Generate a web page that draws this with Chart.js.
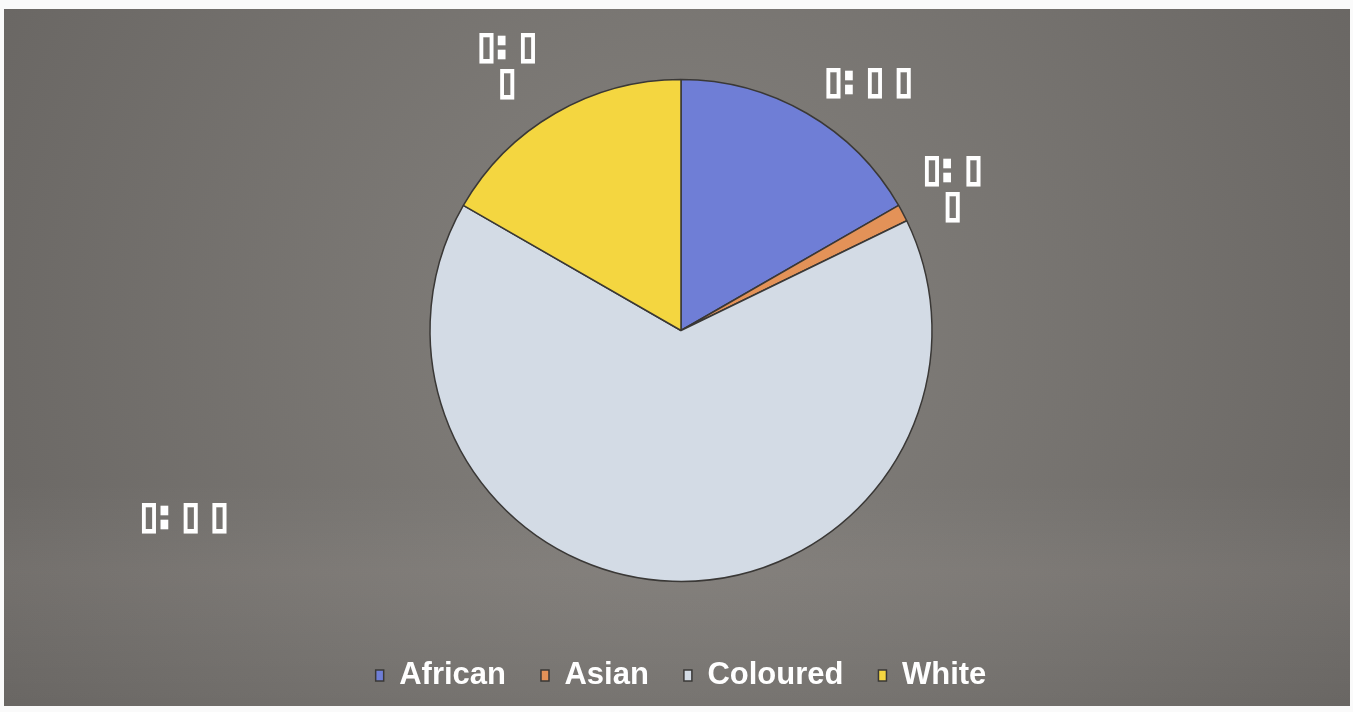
<!DOCTYPE html>
<html>
<head>
<meta charset="utf-8">
<script src="https://cdn.jsdelivr.net/npm/chart.js@4.4.1/dist/chart.umd.min.js"></script>
<style>
  html, body { margin: 0; padding: 0; background: #fafafa; }
  #wrap { position: absolute; left: 4px; top: 9px; width: 1346px; height: 697px; }
</style>
</head>
<body>
<div id="wrap"><canvas id="myChart"></canvas></div>
<script>
// chart data
const categories = ['African', 'Asian', 'Coloured', 'White'];
const shares = [16.7, 1.1, 65.5, 16.7];
// the data labels came out as missing glyphs in the original
const labelTexts = [['\u25AF: \u25AF \u25AF'], ['\u25AF: \u25AF', '\u25AF'], ['\u25AF: \u25AF \u25AF'], ['\u25AF: \u25AF', '\u25AF']];
const sliceColors = ['#6f7ed6', '#e39258', '#d3dbe5', '#f4d640'];

// where each label sits, relative to the outer middle of its slice
const labelOffsets = [[62, -30], [50, -24], [-488, -63], [-48, -47]];

const bgPlugin = {
    id: 'bg',
    beforeDraw(chart) {
        const ctx = chart.ctx;
        const w = chart.width, h = chart.height;
        ctx.save();
        const g = ctx.createRadialGradient(w / 2, h * 0.45, 40, w / 2, h * 0.45, w * 0.6);
        g.addColorStop(0, '#83807c');
        g.addColorStop(1, '#686562');
        ctx.fillStyle = g;
        ctx.fillRect(0, 0, w, h);
        // slightly lighter band low in the picture
        const b = ctx.createLinearGradient(0, h * 0.68, 0, h);
        b.addColorStop(0, 'rgba(255,255,255,0)');
        b.addColorStop(0.4, 'rgba(255,240,235,0.06)');
        b.addColorStop(1, 'rgba(255,255,255,0)');
        ctx.fillStyle = b;
        ctx.fillRect(0, 0, w, h);
        ctx.restore();
    }
};

const labelPlugin = {
    id: 'sliceLabels',
    afterDatasetsDraw(chart) {
        const ctx = chart.ctx;
        const meta = chart.getDatasetMeta(0);
        ctx.save();
        ctx.font = 'bold 32px "DejaVu Sans"';
        ctx.textAlign = 'center';
        ctx.textBaseline = 'middle';
        meta.data.forEach((arc, i) => {
            const mid = (arc.startAngle + arc.endAngle) / 2;
            const x = arc.x + Math.cos(mid) * arc.outerRadius + labelOffsets[i][0];
            const y = arc.y + Math.sin(mid) * arc.outerRadius + labelOffsets[i][1];
            const lines = labelTexts[i];
            lines.forEach((t, k) => {
                const ly = y + (k - (lines.length - 1) / 2) * 36;
                ctx.save();
                ctx.translate(x, ly);
                ctx.scale(1, 1.15);
                ctx.strokeStyle = '#ffffff';
                ctx.lineWidth = 2;
                ctx.strokeText(t, 0, 0);
                ctx.fillStyle = '#ffffff';
                ctx.fillText(t, 0, 0);
                ctx.restore();
            });
        });
        ctx.restore();
    }
};

new Chart(document.getElementById('myChart'), {
    type: 'pie',
    data: {
        labels: categories,
        datasets: [{
            data: shares,
            backgroundColor: sliceColors,
            borderColor: '#3a3836',
            borderWidth: 1.5,
            radius: 251
        }]
    },
    options: {
        responsive: true,
        maintainAspectRatio: false,
        animation: false,
        layout: { padding: { top: 27, bottom: 5, left: 8 } },
        plugins: {
            legend: {
                position: 'bottom',
                labels: {
                    color: '#ffffff',
                    font: { family: 'Liberation Sans', size: 31, weight: 'bold' },
                    boxWidth: 8,
                    boxHeight: 11,
                    padding: 35
                }
            },
            tooltip: { enabled: false }
        }
    },
    plugins: [bgPlugin, labelPlugin]
});
</script>
</body>
</html>
